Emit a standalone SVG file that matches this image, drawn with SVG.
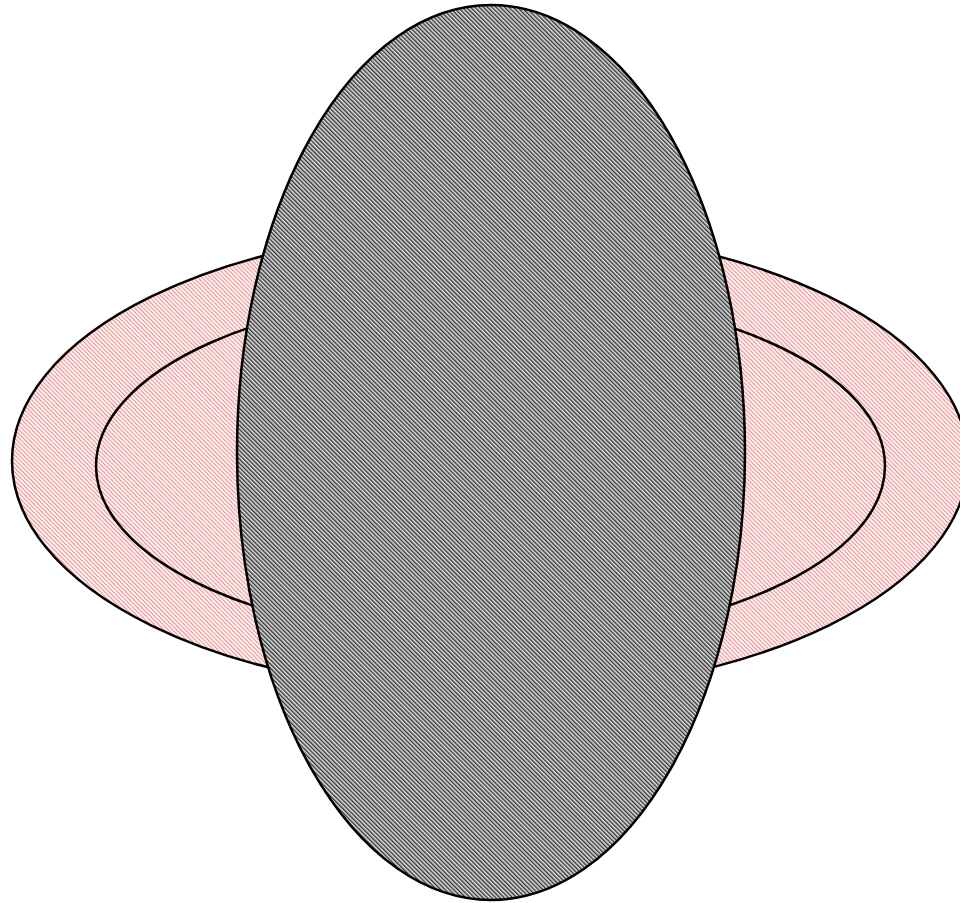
<svg xmlns="http://www.w3.org/2000/svg" width="960" height="903" viewBox="0 0 960 903">
<defs>
<pattern id="pink" width="3" height="3" patternUnits="userSpaceOnUse" patternTransform="rotate(-45)">
<rect width="3" height="3" fill="#ffffff"/>
<rect width="1.2" height="3" fill="#f29090"/>
</pattern>
<pattern id="gray" width="3" height="3" patternUnits="userSpaceOnUse" patternTransform="rotate(-45)">
<rect width="3" height="3" fill="#e0e0e0"/>
<rect width="1.4" height="3" fill="#333333"/>
</pattern>
<style>
.s{stroke:#000;stroke-width:2.5}
</style>
</defs>
<rect width="960" height="903" fill="#fff"/>
<g id="outer-ring"><ellipse class="s" cx="490" cy="461" rx="478" ry="233" fill="url(#pink)"/></g>
<g id="inner-ring"><ellipse class="s" cx="490.5" cy="466" rx="394.5" ry="175" fill="url(#pink)"/></g>
<g id="center"><ellipse class="s" cx="491" cy="452.5" rx="254" ry="447.5" fill="url(#gray)"/></g>
</svg>
